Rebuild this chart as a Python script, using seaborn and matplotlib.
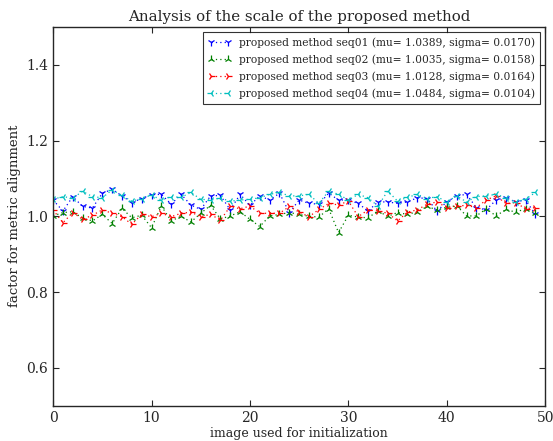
import numpy as np
import pandas as pd
import matplotlib
matplotlib.use("Agg")
import matplotlib.pyplot as plt
import seaborn as sns

# image index used for initialization
frames = list(range(50))

seq01 = [1.043, 1.014, 1.052, 1.026, 1.022, 1.061, 1.071, 1.054, 1.036, 1.047,
         1.057, 1.058, 1.032, 1.058, 1.030, 1.018, 1.054, 1.055, 1.017, 1.058,
         1.029, 1.054, 1.043, 1.061, 1.010, 1.043, 1.034, 1.032, 1.061, 1.043,
         1.043, 1.034, 1.014, 1.038, 1.038, 1.034, 1.038, 1.049, 1.047, 1.014,
         1.038, 1.054, 1.058, 1.023, 1.017, 1.043, 1.049, 1.038, 1.043, 1.005]
seq02 = [1.001, 1.010, 1.012, 0.995, 0.988, 1.005, 0.981, 1.021, 0.996, 1.003,
         0.970, 1.027, 0.988, 1.000, 0.985, 1.008, 1.029, 0.993, 1.001, 1.012,
         0.992, 0.973, 1.001, 1.005, 1.010, 1.005, 1.000, 0.998, 1.020, 0.957,
         1.003, 0.998, 0.996, 1.014, 1.000, 1.010, 1.005, 1.012, 1.026, 1.017,
         1.024, 1.028, 1.001, 1.001, 1.020, 1.001, 1.018, 1.011, 1.020, 1.008]
seq03 = [1.017, 0.983, 1.010, 0.992, 1.003, 1.017, 1.008, 0.999, 0.979, 1.005,
         0.999, 1.008, 0.999, 1.008, 1.011, 0.999, 1.005, 0.990, 1.026, 1.020,
         1.027, 1.008, 1.008, 1.008, 1.026, 1.011, 0.999, 1.018, 1.034, 1.030,
         1.040, 0.999, 1.017, 1.014, 1.008, 0.988, 1.011, 1.017, 1.032, 1.038,
         1.023, 1.027, 1.029, 1.023, 1.043, 1.054, 1.034, 1.036, 1.020, 1.023]
seq04 = [1.045, 1.052, 1.048, 1.066, 1.052, 1.049, 1.070, 1.055, 1.040, 1.047,
         1.056, 1.043, 1.052, 1.050, 1.063, 1.045, 1.043, 1.048, 1.040, 1.043,
         1.045, 1.049, 1.058, 1.063, 1.054, 1.054, 1.058, 1.034, 1.067, 1.058,
         1.043, 1.058, 1.049, 1.027, 1.067, 1.040, 1.050, 1.058, 1.047, 1.052,
         1.038, 1.054, 1.038, 1.052, 1.054, 1.058, 1.049, 1.038, 1.045, 1.063]

labels = [
    "proposed method seq01 (mu= 1.0389, sigma= 0.0170)",
    "proposed method seq02 (mu= 1.0035, sigma= 0.0158)",
    "proposed method seq03 (mu= 1.0128, sigma= 0.0164)",
    "proposed method seq04 (mu= 1.0484, sigma= 0.0104)",
]
colors = ["#0000ff", "#008000", "#ff0000", "#00bfbf"]
markers = ["1", "2", "4", "3"]

df = pd.concat([
    pd.DataFrame({"frame": frames, "scale": vals, "series": lab})
    for vals, lab in zip([seq01, seq02, seq03, seq04], labels)
], ignore_index=True)

sns.set_style("ticks")
plt.rcParams["font.family"] = ["DejaVu Serif"]
plt.rcParams["xtick.direction"] = "in"
plt.rcParams["ytick.direction"] = "in"
plt.rcParams["xtick.top"] = True
plt.rcParams["ytick.right"] = True

fig = plt.figure(figsize=(5.53, 4.41), dpi=100)
ax = fig.add_axes([0.096, 0.080, 0.890, 0.859])

sns.lineplot(data=df, x="frame", y="scale", hue="series", style="series",
             palette=colors, markers=markers, dashes=[(1, 2.5)] * 4,
             linewidth=0.9, markersize=6, ax=ax)

# seaborn paints marker edges white, which hides the unfilled tri markers
for ln in ax.lines:
    ln.set_markeredgecolor(ln.get_color())
    ln.set_markeredgewidth(0.9)

ax.set_xlim(0, 50)
ax.set_ylim(0.5, 1.5)
ax.set_yticks([0.6, 0.8, 1.0, 1.2, 1.4])
ax.set_xticks([0, 10, 20, 30, 40, 50])
ax.tick_params(labelsize=10, length=4, width=0.8)
for s in ax.spines.values():
    s.set_linewidth(1.0)
ax.set_title("Analysis of the scale of the proposed method", fontsize=10.8, pad=4)
ax.set_xlabel("image used for initialization", fontsize=9, labelpad=2)
ax.set_ylabel("factor for metric alignment", fontsize=9.5)

handles, _ = ax.get_legend_handles_labels()
handles = handles[-4:]
for h in handles:
    h.set_markeredgecolor(h.get_color())
    h.set_markeredgewidth(0.9)
leg = ax.legend(handles, labels, loc="upper right", fontsize=7.7, frameon=True,
                fancybox=False, numpoints=2, borderaxespad=0.5, handlelength=2.2,
                labelspacing=0.62, borderpad=0.45, handletextpad=0.7)
leg.get_frame().set_edgecolor("black")
leg.get_frame().set_linewidth(0.8)

fig.savefig("out.png", dpi=100)
